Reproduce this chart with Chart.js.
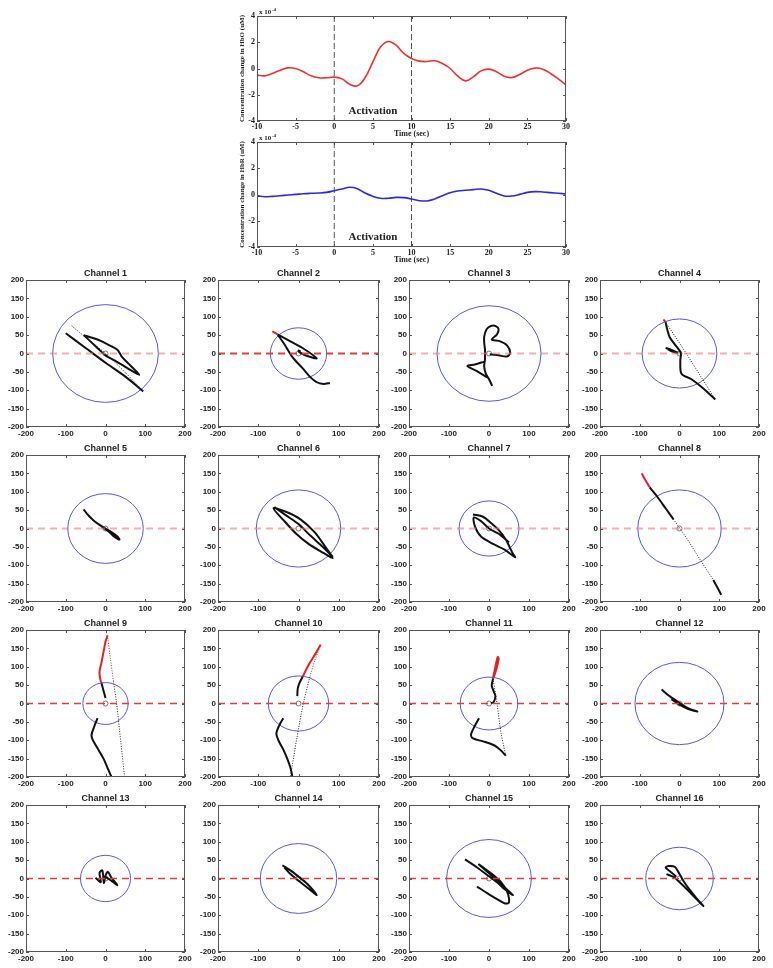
<!DOCTYPE html>
<html>
<head>
<meta charset="utf-8">
<script src="https://cdn.jsdelivr.net/npm/chart.js@4.4.0/dist/chart.umd.min.js"></script>
<style>
  body { margin: 0; background: #fff; }
  #page { position: relative; width: 773px; height: 968px; overflow: hidden; background: #fff; }
  #page canvas { position: absolute; }
</style>
</head>
<body>
<div id="page"></div>
<script>
// ---------- time course data (units of 1e-4 uM) ----------
const timeSec = [-10, -9, -8, -7, -6, -5, -4, -3, -2, -1, 0, 1, 2, 3, 4, 5, 6, 7, 8, 9, 10,
  11, 12, 13, 14, 15, 16, 17, 18, 19, 20, 21, 22, 23, 24, 25, 26, 27, 28, 29, 30];
const hboValues = [-0.50, -0.56, -0.38, -0.13, 0.05, 0.00, -0.25, -0.56, -0.71, -0.71, -0.66,
  -0.79, -1.20, -1.32, -0.69, 0.50, 1.65, 2.06, 1.78, 1.15, 0.76,
  0.56, 0.53, 0.59, 0.38, 0.00, -0.59, -0.94, -0.64, -0.18, -0.05,
  -0.25, -0.59, -0.69, -0.46, -0.13, 0.03, -0.05, -0.38, -0.79, -1.25];
const hbrValues = [-0.11, -0.17, -0.14, -0.09, -0.04, 0.01, 0.06, 0.09, 0.11, 0.16, 0.29,
  0.42, 0.55, 0.44, 0.11, -0.14, -0.29, -0.29, -0.22, -0.24, -0.34,
  -0.47, -0.49, -0.34, -0.09, 0.14, 0.27, 0.32, 0.37, 0.42, 0.32,
  0.09, -0.11, -0.11, 0.01, 0.16, 0.22, 0.19, 0.14, 0.09, 0.04];
const activationLines = [0, 10];
const activationLabel = [5, -3.25];

// ---------- channel phase plots (null breaks a path) ----------
const channelNames = ['Channel 1', 'Channel 2', 'Channel 3', 'Channel 4', 'Channel 5', 'Channel 6',
  'Channel 7', 'Channel 8', 'Channel 9', 'Channel 10', 'Channel 11', 'Channel 12',
  'Channel 13', 'Channel 14', 'Channel 15', 'Channel 16'];
const circleRadii = [133, 70, 130, 94, 95, 105, 75, 105, 57, 75, 72, 112, 63, 95, 106, 85];
const zeroLineX = [-200, 200];

const ch1Black = [[-100, 55], [-50, 15], [0, -25], [50, -63], [95, -103], null,
  [-55, 50], [-20, 38], [5, 25], [30, 10], [42, -10], [62, -32], [85, -58], [55, -40], [25, -20], [0, -5], [-25, 20], [-55, 50]];
const ch1Dots = [[-85, 75], [-40, 35], [0, 0], [50, -52], [95, -103]];
const ch2Red = [[-65, 60], [-52, 52]];
const ch2Black = [[-52, 52], [-20, 33], [10, 15], [45, -13], [20, -6], [3, 3], [0, 8], [5, 5], null,
  [-52, 52], [-35, 25], [-15, -10], [10, -40], [28, -63], [45, -78], [62, -83], [78, -80]];
const ch3Black = [[8, -88], [0, -70], [-8, -55], [-12, -35], [-10, -15], [-10, 10], [-12, 30], [-12, 46], [-6, 66], [5, 75],
  [18, 74], [24, 66], [20, 52], [7, 38], [28, 33], [45, 22], [53, 2], [45, -8], [24, -5], [2, -2], null,
  [-5, -65], [-30, -48], [-54, -34], [-35, -30], [-12, -22]];
const ch4Red = [[-40, 92], [-35, 85]];
const ch4Black = [[-35, 85], [-30, 62], [-25, 45], [-12, 25], [3, 2], [2, -20], [5, -55], [30, -70], [60, -95], [90, -125], null,
  [-35, 15], [-20, 10], [-5, 2], [-18, 5], [-30, 12]];
const ch4Dots = [[-40, 92], [-10, 45], [20, -5], [55, -65], [90, -125]];
const ch5Black = [[-55, 52], [-45, 38], [-30, 22], [-15, 10], [0, 0], [15, -10], [30, -22], [35, -30], [22, -22], [8, -8], [-10, 5]];
const ch6Black = [[-60, 58], [-30, 35], [0, 12], [30, -20], [60, -50], [85, -80], [55, -62], [25, -42], [-5, -15], [-35, 20],
  [-62, 55], [-30, 45], [5, 25], [40, -10], [68, -52], [85, -78]];
const ch7Black = [[-40, 38], [-15, 32], [5, 15], [25, -5], [42, -30], [58, -65], [65, -78], [40, -58], [10, -42], [-20, -22],
  [-35, 5], [-38, 30], [-20, 20], [0, 0], [25, -15], [50, -38]];
const ch8Red = [[-95, 150], [-85, 130], [-75, 112]];
const ch8Black = [[-75, 112], [-55, 85], [-35, 55], [-15, 25], null, [85, -140], [105, -180]];
const ch8Dots = [[-15, 25], [20, -30], [55, -90], [85, -140]];
const ch9Red = [[5, 185], [0, 168], [-5, 140], [-10, 112], [-15, 87], [-13, 65], [-10, 55]];
const ch9RedDots = [[5, 185], [12, 125], [20, 60]];
const ch9Black = [[-10, 55], [-5, 35], [0, 15], null,
  [-20, -40], [-28, -62], [-35, -85], [-33, -97], [-20, -122], [-5, -150], [5, -175], [15, -200]];
const ch9Dots = [[20, 60], [28, 0], [38, -100], [48, -200]];
const ch10Red = [[55, 160], [42, 135], [25, 105], [10, 72]];
const ch10RedDots = [[55, 160], [40, 115], [28, 72]];
const ch10Black = [[10, 72], [2, 55], [-2, 40], [-3, 20], null,
  [-38, -40], [-48, -60], [-55, -82], [-50, -100], [-38, -125], [-28, -150], [-20, -175], [-15, -200]];
const ch10Dots = [[28, 72], [12, 0], [-5, -100], [-20, -200]];
const ch11Red = [[10, 68], [15, 95], [20, 120], [22, 127], [24, 122], [20, 100], [14, 78], [10, 68]];
const ch11Black = [[10, 68], [7, 48], [12, 32], [16, 20], [12, 5], [5, 0], null,
  [-25, -40], [-35, -60], [-45, -85], [-40, -95], [-15, -103], [15, -115], [30, -128], [42, -142]];
const ch11Dots = [[10, 68], [20, 0], [30, -80], [42, -142]];
const ch12Black = [[-45, 38], [-25, 20], [0, 2], [20, -12], [45, -22], [22, -15], [0, -3], [-20, 12]];
const ch13Black = [[-25, 2], [-12, -10], [-15, 15], [-8, 22], [-4, -12], [0, 8], [6, 18], [15, 2], [30, -18], [12, -4], [0, 4]];
const ch14Black = [[-40, 36], [-20, 22], [0, 5], [22, -15], [45, -45], [30, -32], [5, -10], [-20, 12], [-35, 30]];
const ch15Black = [[-60, 52], [-30, 30], [0, 6], [20, -10], [40, -30], [60, -45], [40, -25], [10, 5], [-25, 38], [-12, 28],
  [10, 10], [30, -10], [45, -35], [50, -65], [40, -68], [20, -56], [0, -43], [-30, -22]];
const ch16Black = [[-33, 12], [-15, 4], [5, -15], [30, -42], [60, -75], [40, -50], [15, -15], [0, 12], [-12, 32], [-28, 34],
  [-35, 30], [-22, 18], [-8, 5]];

const channelPaths = [
  { black: ch1Black, dots: ch1Dots },
  { black: ch2Black, red: ch2Red },
  { black: ch3Black },
  { black: ch4Black, red: ch4Red, dots: ch4Dots },
  { black: ch5Black },
  { black: ch6Black },
  { black: ch7Black },
  { black: ch8Black, red: ch8Red, dots: ch8Dots },
  { black: ch9Black, red: ch9Red, dots: ch9Dots, redDots: ch9RedDots },
  { black: ch10Black, red: ch10Red, dots: ch10Dots, redDots: ch10RedDots },
  { black: ch11Black, red: ch11Red, dots: ch11Dots },
  { black: ch12Black },
  { black: ch13Black },
  { black: ch14Black },
  { black: ch15Black },
  { black: ch16Black }
];

// ---------- layout ----------
const columnLeft = [26, 218, 409, 600];
const columnWidth = [159, 161, 160, 159];
const rowTop = [280, 455, 630, 805];
const rowHeight = 147;

const SANS = "'Liberation Sans', Arial, sans-serif";
const SERIF = "'Liberation Serif', 'Times New Roman', serif";
const page = document.getElementById('page');

function makeCanvas(left, top, width, height) {
  const c = document.createElement('canvas');
  c.width = width;
  c.height = height;
  c.style.left = left + 'px';
  c.style.top = top + 'px';
  c.style.width = width + 'px';
  c.style.height = height + 'px';
  page.appendChild(c);
  return c;
}

const toXY = pts => pts.map(p => p ? { x: p[0], y: p[1] } : { x: null, y: null });

// Box around the plot with small inward ticks (MATLAB look)
const framePlugin = {
  id: 'frame',
  afterDraw(chart) {
    const { ctx, chartArea: a, scales } = chart;
    const line = (x1, y1, x2, y2) => { ctx.beginPath(); ctx.moveTo(x1, y1); ctx.lineTo(x2, y2); ctx.stroke(); };
    ctx.save();
    ctx.strokeStyle = '#555';
    ctx.lineWidth = 1;
    ctx.strokeRect(Math.round(a.left) + 0.5, Math.round(a.top) + 0.5, Math.round(a.width) - 1, Math.round(a.height) - 1);
    scales.x.ticks.forEach(t => {
      const px = Math.round(scales.x.getPixelForValue(t.value)) + 0.5;
      line(px, a.bottom, px, a.bottom - 3);
      line(px, a.top, px, a.top + 3);
    });
    scales.y.ticks.forEach(t => {
      const py = Math.round(scales.y.getPixelForValue(t.value)) + 0.5;
      line(a.left, py, a.left + 3, py);
      line(a.right, py, a.right - 3, py);
    });
    ctx.restore();
  }
};

// Blue circle of the given radius (data units) around the origin
const circlePlugin = {
  id: 'circle',
  beforeDatasetsDraw(chart, args, opts) {
    if (!opts.radius) return;
    const { ctx, scales: { x, y }, chartArea: a } = chart;
    const cx = x.getPixelForValue(0), cy = y.getPixelForValue(0);
    const rx = x.getPixelForValue(opts.radius) - cx;
    const ry = cy - y.getPixelForValue(opts.radius);
    ctx.save();
    ctx.beginPath();
    ctx.rect(a.left, a.top, a.width, a.height);
    ctx.clip();
    ctx.strokeStyle = '#5858e0';
    ctx.lineWidth = 1;
    ctx.beginPath();
    ctx.ellipse(cx, cy, rx, ry, 0, 0, Math.PI * 2);
    ctx.stroke();
    ctx.restore();
  }
};

// "x 10^-4" exponent and the "Activation" label on the time plots
const timeTextPlugin = {
  id: 'timeText',
  afterDraw(chart, args, opts) {
    if (!opts.show) return;
    const { ctx, chartArea: a, scales: { x, y } } = chart;
    ctx.save();
    ctx.fillStyle = '#222';
    ctx.textBaseline = 'alphabetic';
    ctx.font = 'bold 7px ' + SERIF;
    ctx.fillText('x 10', a.left + 2, a.top - 2);
    const w = ctx.measureText('x 10').width;
    ctx.font = 'bold 5px ' + SERIF;
    ctx.fillText('-4', a.left + 2 + w + 0.5, a.top - 5);
    ctx.font = 'bold 11px ' + SERIF;
    ctx.textAlign = 'center';
    ctx.textBaseline = 'middle';
    ctx.fillText('Activation', x.getPixelForValue(activationLabel[0]), y.getPixelForValue(activationLabel[1]));
    ctx.restore();
  }
};

// ---------- time course plots ----------
function drawTimePlot(top, values, color, yTitle) {
  const canvas = makeCanvas(238, top, 336, 139);
  const datasets = [{
    data: timeSec.map((t, i) => ({ x: t, y: values[i] })),
    showLine: true,
    borderColor: color,
    borderWidth: 1.6,
    pointRadius: 0,
    tension: 0.4
  }];
  activationLines.forEach(t => {
    datasets.push({
      data: [{ x: t, y: -4 }, { x: t, y: 4 }],
      showLine: true,
      borderColor: '#555',
      borderWidth: 1,
      borderDash: [6, 3],
      pointRadius: 0
    });
  });
  const tickFont = { family: SERIF, size: 8, weight: 'bold' };
  new Chart(canvas, {
    type: 'scatter',
    data: { datasets },
    plugins: [framePlugin, timeTextPlugin],
    options: {
      responsive: false,
      animation: false,
      layout: { padding: { top: 16, right: 8, bottom: 0, left: 0 } },
      plugins: { legend: { display: false }, tooltip: { enabled: false }, timeText: { show: true } },
      scales: {
        x: {
          type: 'linear', min: -10, max: 30,
          ticks: { stepSize: 5, font: tickFont, color: '#222', padding: 1, maxRotation: 0 },
          grid: { display: false, drawTicks: false },
          border: { display: false },
          title: { display: true, text: 'Time (sec)', font: { family: SERIF, size: 8, weight: 'bold' }, color: '#222', padding: 0 },
          afterFit: s => { s.height = 18; }
        },
        y: {
          min: -4, max: 4,
          ticks: { stepSize: 2, font: tickFont, color: '#222', padding: 2 },
          grid: { display: false, drawTicks: false },
          border: { display: false },
          title: { display: true, text: yTitle, font: { family: SERIF, size: 7, weight: 'bold' }, color: '#222', padding: 0 },
          afterFit: s => { s.width = 19; }
        }
      }
    }
  });
}

drawTimePlot(0, hboValues, '#f03030', 'Concentration change in HbO (uM)');
drawTimePlot(126, hbrValues, '#2a2ae0', 'Concentration change in HbR (uM)');

// ---------- channel plots ----------
const PAD_L = 28, PAD_T = 14, PAD_R = 10, PAD_B = 12;

channelNames.forEach((name, i) => {
  const col = i % 4, row = Math.floor(i / 4);
  const w = columnWidth[col];
  const canvas = makeCanvas(columnLeft[col] - PAD_L, rowTop[row] - PAD_T, w + PAD_L + PAD_R, rowHeight + PAD_T + PAD_B);
  const strongZero = i === 1 || i >= 8;
  const paths = channelPaths[i];
  const datasets = [{
    data: zeroLineX.map(x => ({ x, y: 0 })),
    showLine: true,
    borderColor: strongZero ? '#e83c3c' : 'rgba(240,120,120,0.6)',
    borderWidth: i === 1 ? 2 : (strongZero ? 1.4 : 2),
    borderDash: [7, 5],
    pointRadius: 0
  }];
  const addPath = (pts, color, width, dash) => {
    if (!pts) return;
    datasets.push({
      data: toXY(pts),
      showLine: true,
      spanGaps: false,
      borderColor: color,
      borderWidth: width,
      borderDash: dash || [],
      pointRadius: 0,
      tension: 0.3
    });
  };
  addPath(paths.dots, '#222', 1, [1, 1.5]);
  addPath(paths.redDots, '#e02020', 1, [1, 1.5]);
  addPath(paths.black, '#111', 2);
  addPath(paths.red, '#e62020', 2);
  datasets.push({
    data: [{ x: 0, y: 0 }],
    pointRadius: 2.5,
    pointBackgroundColor: '#fff',
    pointBorderColor: '#777',
    pointBorderWidth: 1
  });
  const tickFont = { family: SANS, size: 8, weight: 'bold' };
  new Chart(canvas, {
    type: 'scatter',
    data: { datasets },
    plugins: [circlePlugin, framePlugin],
    options: {
      responsive: false,
      animation: false,
      layout: { padding: { top: 0, right: PAD_R, bottom: 0, left: 0 } },
      plugins: {
        legend: { display: false },
        tooltip: { enabled: false },
        circle: { radius: circleRadii[i] },
        title: {
          display: true, text: name, fullSize: false, color: '#222',
          font: { family: SANS, size: 9, weight: 'bold' },
          padding: { top: 2, bottom: 1.2 }
        }
      },
      scales: {
        x: {
          type: 'linear', min: -200, max: 200,
          ticks: { stepSize: 100, font: tickFont, color: '#222', padding: 2, maxRotation: 0, autoSkip: false },
          grid: { display: false, drawTicks: false },
          border: { display: false },
          afterFit: s => { s.height = PAD_B; }
        },
        y: {
          min: -200, max: 200,
          ticks: { stepSize: 50, font: tickFont, color: '#222', padding: 2, autoSkip: false },
          grid: { display: false, drawTicks: false },
          border: { display: false },
          afterFit: s => { s.width = PAD_L; }
        }
      }
    }
  });
});
</script>
</body>
</html>
